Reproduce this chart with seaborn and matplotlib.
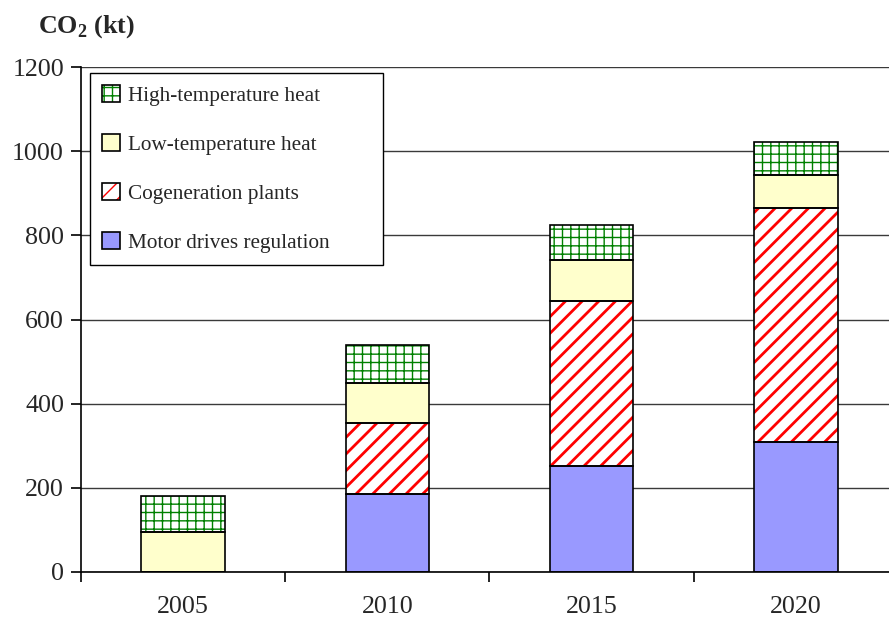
import matplotlib
matplotlib.use("Agg")
import matplotlib.pyplot as plt
from matplotlib.legend_handler import HandlerTuple
import seaborn as sns
import pandas as pd

# ---- data ----
years = ["2005", "2010", "2015", "2020"]
series_names = ["Motor drives regulation", "Cogeneration plants",
                "Low-temperature heat", "High-temperature heat"]
motor_drives = [0, 185, 251, 310]
cogeneration = [0, 169, 394, 556]
low_temp_heat = [96, 96, 96, 77]
high_temp_heat = [84, 89, 83, 78]
y_ticks = [0, 200, 400, 600, 800, 1000, 1200]
y_label = "CO$_\\mathbf{2}$ (kt)"

series_values = [motor_drives, cogeneration, low_temp_heat, high_temp_heat]
# (face colour, hatch, hatch colour, hatch linewidth)
styles = [
    ("#9999FF", None, "none", 1.0),
    ("white", "//", "#FF0000", 2.0),
    ("#FFFFCC", None, "none", 1.0),
    ("white", "++", "#008000", 1.0),
]

sns.set_style("white")
plt.rcParams["font.family"] = ["Liberation Serif", "DejaVu Serif"]
plt.rcParams["mathtext.fontset"] = "custom"
plt.rcParams["mathtext.rm"] = "Liberation Serif"
plt.rcParams["mathtext.bf"] = "Liberation Serif:bold"

fig = plt.figure(figsize=(8.89, 6.19), dpi=100)
ax = fig.add_axes([81 / 889, 1 - 572 / 619, 817 / 889, 505 / 619])

bottom = [0, 0, 0, 0]
handles = []
for vals, (fc, hatch, hc, hlw) in zip(series_values, styles):
    df = pd.DataFrame({"year": years, "value": vals})
    with plt.rc_context({"hatch.linewidth": hlw}):
        sns.barplot(data=df, x="year", y="value", bottom=bottom, width=0.41,
                    saturation=1, color=fc, ax=ax, zorder=2)
        fill = ax.containers[-1]
        for p in fill.patches:
            p.set_facecolor(fc)
            p.set_edgecolor(hc)
            p.set_linewidth(0)
            if hatch:
                p.set_hatch(hatch)
                if hasattr(p, "set_hatch_linewidth"):
                    p.set_hatch_linewidth(hlw)
    sns.barplot(data=df, x="year", y="value", bottom=bottom, width=0.41,
                saturation=1, color="black", ax=ax, zorder=3)
    edge = ax.containers[-1]
    for p in edge.patches:
        p.set_facecolor("none")
        p.set_edgecolor("black")
        p.set_linewidth(1.2)
    handles.append((fill.patches[-1], edge.patches[-1]))
    bottom = [b + v for b, v in zip(bottom, vals)]

ax.set_xlim(-0.5, 3.5)
ax.set_ylim(0, 1200)
ax.set_yticks(y_ticks)
ax.set_xticks(range(len(years)))
ax.set_xticklabels(years)
ax.set_xticks([-0.5, 0.5, 1.5, 2.5], minor=True)
ax.set_xlabel("")
ax.set_ylabel("")
ax.set_axisbelow(True)
ax.yaxis.grid(True, color="#3a3a3a", linewidth=1.0)
ax.xaxis.grid(False)

for s in ["top", "right"]:
    ax.spines[s].set_visible(False)
for s in ["left", "bottom"]:
    ax.spines[s].set_color("black")
    ax.spines[s].set_linewidth(1.2)

ax.tick_params(axis="y", which="major", direction="out", length=7.2, width=1.2,
               color="black", labelsize=18.7, pad=5, left=True)
ax.tick_params(axis="x", which="major", length=0, labelsize=18.7, pad=17.5)
ax.tick_params(axis="x", which="minor", direction="out", length=7.2, width=1.2,
               color="black", bottom=True)

leg = ax.legend(handles[::-1], series_names[::-1],
                handler_map={tuple: HandlerTuple(ndivide=1)},
                loc="upper left", bbox_to_anchor=(9 / 817, 0.988, 293 / 817, 0.0),
                mode="expand", fontsize=15.3, frameon=True, fancybox=False,
                framealpha=1, edgecolor="black", borderpad=0.55,
                labelspacing=1.33, handlelength=0.85, handleheight=0.85,
                handletextpad=0.4, borderaxespad=0)
leg.get_frame().set_linewidth(1.0)

fig.text(38 / 889, 1 - 33 / 619, y_label, fontsize=18.7, fontweight="bold",
         ha="left", va="baseline")

fig.savefig("out.png", dpi=100)
